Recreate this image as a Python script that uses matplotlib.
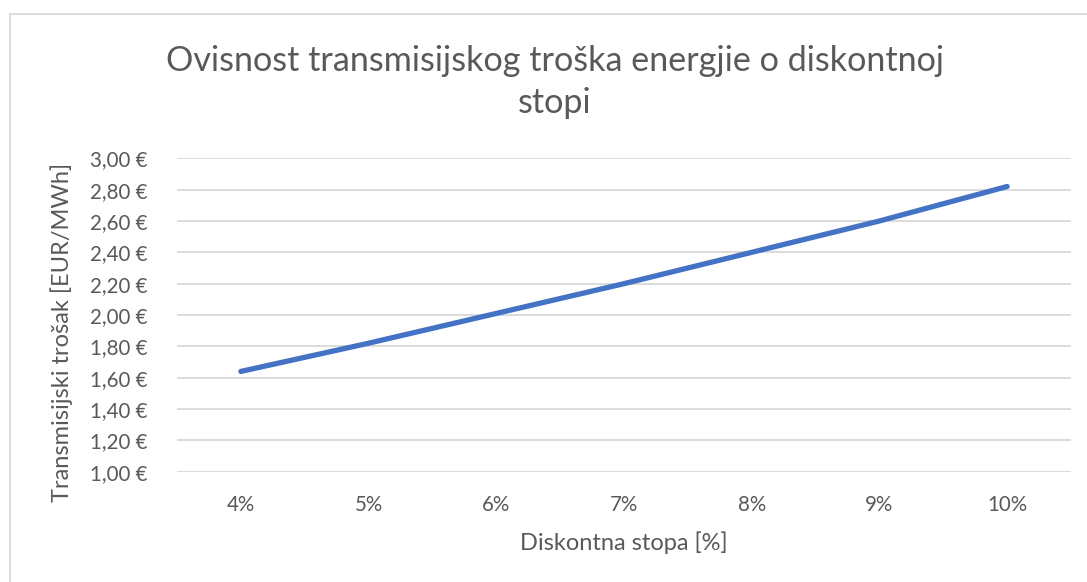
import matplotlib
matplotlib.use("Agg")
import matplotlib.pyplot as plt
from matplotlib.patches import Rectangle
from matplotlib.ticker import FuncFormatter

# Discount rate categories and transmission cost values
categories = ["4%", "5%", "6%", "7%", "8%", "9%", "10%"]
costs = [1.64, 1.82, 2.01, 2.20, 2.40, 2.60, 2.82]
y_ticks = [1.00, 1.20, 1.40, 1.60, 1.80, 2.00, 2.20, 2.40, 2.60, 2.80, 3.00]

title = "Ovisnost transmisijskog troška energjie o diskontnoj\nstopi"
x_label = "Diskontna stopa [%]"
y_label = "Transmisijski trošak [EUR/MWh]"

W, H = 1087, 582
DPI = 100
PT = 72 / DPI  # points per pixel
text_color = "#595959"
grid_color = "#D9D9D9"
line_color = "#4472C4"

plt.rcParams["font.family"] = ["Lato", "DejaVu Sans"]

fig = plt.figure(figsize=(W / DPI, H / DPI), dpi=DPI)
fig.patch.set_facecolor("white")

# chart area border
fig.patches.append(Rectangle((10 / W, -0.05), 1.2, (H - 14) / H + 0.05,
                             transform=fig.transFigure, fill=False,
                             edgecolor=grid_color, linewidth=1.3))

# plot area in pixel coordinates
left, right, top, bottom = 177, 1071, 158.3, 471.7
ax = fig.add_axes([left / W, 1 - bottom / H, (right - left) / W, (bottom - top) / H])

x = list(range(len(categories)))
ax.plot(x, costs, color=line_color, linewidth=3.8, solid_capstyle="round",
        solid_joinstyle="round", zorder=3)

ax.set_xlim(-0.5, len(categories) - 0.5)
ax.set_ylim(y_ticks[0], y_ticks[-1])
ax.set_yticks(y_ticks)
ax.yaxis.set_major_formatter(FuncFormatter(lambda v, p: f"{v:.2f}".replace(".", ",") + " €"))
ax.set_xticks(x)
ax.set_xticklabels(categories)

ax.grid(axis="y", color=grid_color, linewidth=1.3)
ax.set_axisbelow(True)
for s in ax.spines.values():
    s.set_visible(False)
ax.tick_params(axis="both", length=0, labelsize=14.8, labelcolor=text_color)
ax.tick_params(axis="y", pad=29 * PT)
ax.tick_params(axis="x", pad=23 * PT)

fig.text(62 / W, 1 - 332 / H, y_label, rotation=90, ha="center", va="center",
         fontsize=17, color=text_color)
fig.text(623.5 / W, 1 - 543 / H, x_label, ha="center", va="center",
         fontsize=17, color=text_color)
fig.text(555 / W, 1 - 82 / H, title, ha="center", va="center",
         fontsize=24.6, color=text_color, linespacing=1.4)

fig.savefig("out.png", dpi=DPI, facecolor="white")
